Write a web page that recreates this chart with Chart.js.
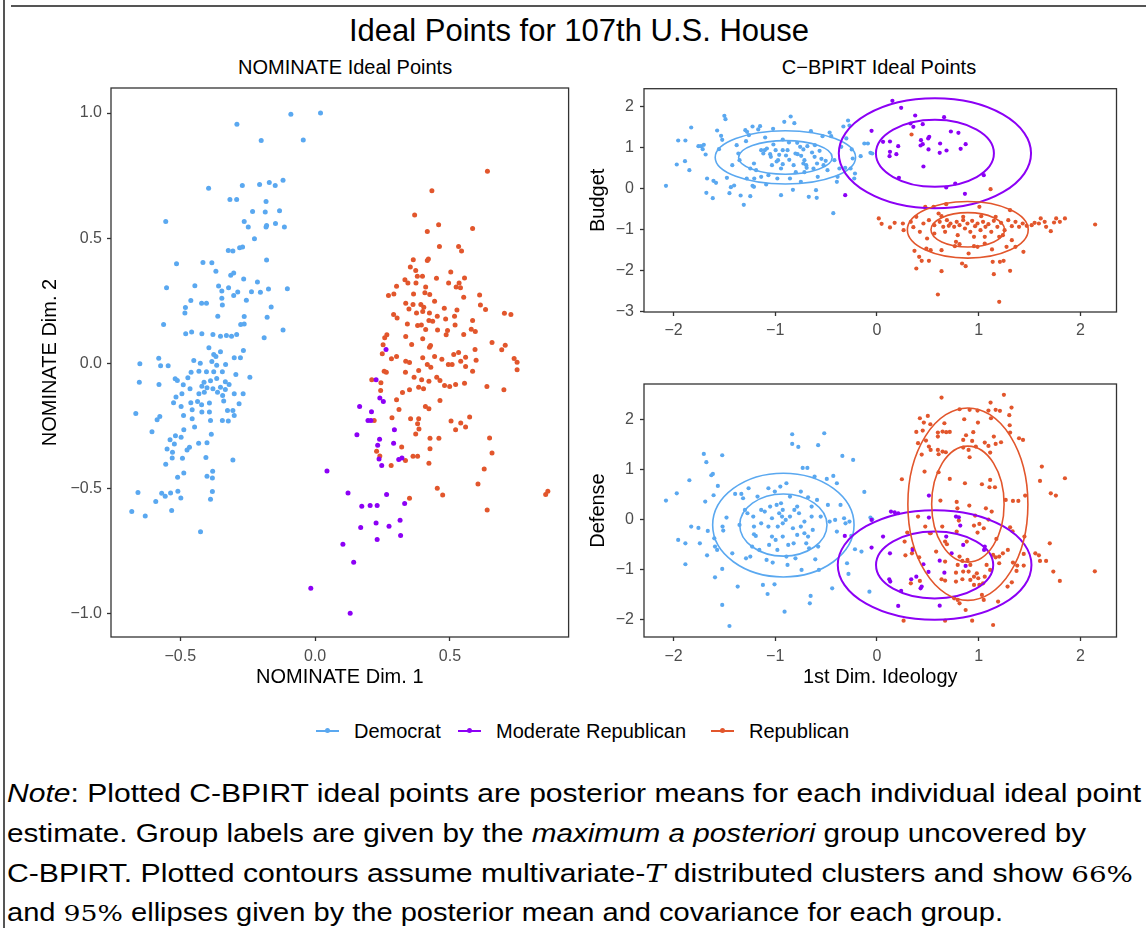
<!DOCTYPE html>
<html>
<head>
<meta charset="utf-8">
<title>Ideal Points for 107th U.S. House</title>
<script src="https://cdn.jsdelivr.net/npm/chart.js@4.4.1/dist/chart.umd.min.js"></script>
<style>
  body { margin: 0; width: 1146px; height: 928px; background: #fff; position: relative; overflow: hidden;
         font-family: 'Liberation Sans', Arial, Helvetica, sans-serif; color: #000; }
  .txt { position: absolute; white-space: nowrap; line-height: 1; }
  canvas { position: absolute; }
  .key { position: absolute; top: 730px; width: 23px; height: 2px; }
  .key i { position: absolute; left: 9px; top: -2px; width: 5px; height: 5px; border-radius: 50%; background: inherit; }
  .note { position: absolute; left: 7px; font-size: 25px; line-height: 1; white-space: nowrap; transform-origin: 0 0; }
  .num { font-family: 'DejaVu Serif', 'Liberation Serif', serif; font-size: 23px; }
</style>
</head>
<body>
<div style="position:absolute;left:3px;top:0;width:1.5px;height:928px;background:#555"></div>
<div style="position:absolute;left:11px;top:5px;width:1135px;height:1.5px;background:#555"></div>

<div class="txt" style="left:0;width:1158px;text-align:center;top:15px;font-size:31px">Ideal Points for 107th U.S. House</div>
<div class="txt" style="left:238px;width:200px;text-align:center;top:57px;font-size:20px">NOMINATE Ideal Points</div>
<div class="txt" style="left:779px;width:200px;text-align:center;top:57px;font-size:20px">C&#8722;BPIRT Ideal Points</div>

<canvas id="nominate" width="550" height="620" style="left:30px;top:80px"></canvas>
<canvas id="budget" width="561" height="270" style="left:585px;top:80px"></canvas>
<canvas id="defense" width="561" height="324" style="left:585px;top:376px"></canvas>

<div class="key" style="left:316px;background:#5aa8f0"><i></i></div>
<div class="txt" style="left:354px;top:721px;font-size:20px">Democrat</div>
<div class="key" style="left:458px;background:#8c00f5"><i></i></div>
<div class="txt" style="left:496px;top:721px;font-size:20px">Moderate Republican</div>
<div class="key" style="left:711px;background:#e2562c"><i></i></div>
<div class="txt" style="left:749px;top:721px;font-size:20px">Republican</div>

<div class="note" id="n1" style="top:781px"><i>Note</i>: Plotted C-BPIRT ideal points are posterior means for each individual ideal point</div>
<div class="note" id="n2" style="top:821px">estimate. Group labels are given by the <i>maximum a posteriori</i> group uncovered by</div>
<div class="note" id="n3" style="top:861px">C-BPIRT. Plotted contours assume multivariate-<i style="font-family:'DejaVu Serif',serif">T</i> distributed clusters and show <span class="num">66%</span></div>
<div class="note" id="n4" style="top:900px">and <span class="num">95%</span> ellipses given by the posterior mean and covariance for each group.</div>

<script>
// colours for the three groups
const groupNames = ['Democrat', 'Moderate Republican', 'Republican'];
const groupColours = ['#5aa8f0', '#8c00f5', '#e2562c'];

// tick values
const nomXTicks = [-0.5, 0, 0.5];
const nomYTicks = [-1, -0.5, 0, 0.5, 1];
const cbXTicks = [-2, -1, 0, 1, 2];
const budgetTicks = [-3, -2, -1, 0, 1, 2];
const defenseTicks = [-2, -1, 0, 1, 2];

// NOMINATE ideal points [dim1, dim2]
const nomDem = [
  [-0.29,0.955],[-0.09,0.995],[0.02,1.0],[-0.2,0.89],[-0.044,0.892],[-0.395,0.70],[-0.27,0.711],[-0.206,0.715],[-0.17,0.723],[-0.148,0.711],
  [-0.119,0.732],[-0.316,0.655],[-0.291,0.655],[-0.182,0.647],[-0.232,0.607],[-0.185,0.605],[-0.132,0.61],[-0.554,0.567],[-0.263,0.567],[-0.248,0.545],
  [-0.182,0.545],[-0.18,0.551],[-0.147,0.559],[-0.114,0.545],[-0.225,0.498],[-0.322,0.451],[-0.305,0.449],[-0.28,0.462],[-0.269,0.465],[-0.514,0.398],
  [-0.416,0.403],[-0.383,0.402],[-0.18,0.413],[-0.368,0.368],[-0.313,0.352],[-0.302,0.361],[-0.265,0.337],[-0.214,0.325],[-0.551,0.302],[-0.446,0.31],
  [-0.358,0.309],[-0.321,0.302],[-0.346,0.289],[-0.236,0.286],[-0.203,0.284],[-0.173,0.297],[-0.103,0.298],[-0.302,0.272],[-0.287,0.285],[-0.346,0.261],
  [-0.461,0.252],[-0.421,0.241],[-0.403,0.241],[-0.344,0.234],[-0.255,0.253],[-0.481,0.224],[-0.483,0.202],[-0.163,0.226],[-0.361,0.189],[-0.263,0.188],
  [-0.178,0.185],[-0.562,0.156],[-0.276,0.156],[-0.263,0.158],[-0.119,0.134],[-0.48,0.119],[-0.458,0.126],[-0.42,0.119],[-0.379,0.116],[-0.351,0.109],
  [-0.329,0.112],[-0.31,0.109],[-0.291,0.116],[-0.189,0.103],
  [-0.394,0.063],[-0.376,0.036],[-0.368,0.028],[-0.351,0.047],[-0.266,0.052],[-0.30,0.023],[-0.277,0.023],[-0.45,0.012],[-0.426,0.001],[-0.383,0.008],
  [-0.365,-0.007],[-0.332,-0.004],[-0.65,-0.001],[-0.58,0.021],[-0.573,-0.009],[-0.545,-0.009],[-0.46,-0.035],[-0.431,-0.031],[-0.403,-0.033],[-0.376,-0.033],
  [-0.344,-0.033],[-0.294,-0.044],[-0.242,-0.055],[-0.519,-0.061],[-0.511,-0.068],[-0.472,-0.057],[-0.412,-0.075],[-0.388,-0.069],[-0.365,-0.06],[-0.333,-0.073],
  [-0.319,-0.084],[-0.652,-0.075],[-0.579,-0.084],[-0.489,-0.085],[-0.464,-0.101],[-0.42,-0.091],[-0.401,-0.097],[-0.379,-0.101],[-0.351,-0.095],[-0.333,-0.104],
  [-0.267,-0.121],[-0.30,-0.121],[-0.494,-0.121],[-0.431,-0.121],[-0.411,-0.115],[-0.362,-0.115],[-0.343,-0.128],[-0.516,-0.134],[-0.525,-0.157],[-0.461,-0.157],
  [-0.436,-0.152],[-0.421,-0.165],[-0.392,-0.158],[-0.339,-0.15],[-0.282,-0.161],[-0.497,-0.172],[-0.456,-0.185],[-0.42,-0.194],[-0.392,-0.194],[-0.325,-0.188],
  [-0.305,-0.188],[-0.665,-0.2],[-0.488,-0.208],[-0.30,-0.208],[-0.586,-0.225],[-0.456,-0.221],[-0.388,-0.228],[-0.344,-0.228],[-0.322,-0.23],[-0.576,-0.212],
  [-0.447,-0.254],[-0.487,-0.265],[-0.605,-0.272],[-0.385,-0.282],[-0.518,-0.288],[-0.497,-0.294],[-0.538,-0.304],[-0.432,-0.318],[-0.401,-0.316],[-0.522,-0.321],
  [-0.466,-0.334],[-0.475,-0.345],[-0.549,-0.341],[-0.529,-0.354],[-0.492,-0.378],[-0.53,-0.377],[-0.405,-0.375],[-0.305,-0.385],[-0.554,-0.402],[-0.487,-0.437],
  [-0.51,-0.454],[-0.401,-0.45],[-0.38,-0.43],[-0.381,-0.457],[-0.509,-0.51],[-0.498,-0.537],[-0.381,-0.511],[-0.388,-0.542],[-0.657,-0.515],[-0.569,-0.518],
  [-0.556,-0.53],[-0.536,-0.517],[-0.591,-0.551],[-0.68,-0.591],[-0.63,-0.609],[-0.532,-0.587],[-0.425,-0.672]
];
const nomMod = [
  [0.263,0.056],[0.226,-0.065],[0.24,-0.138],[0.253,-0.152],[0.165,-0.172],[0.209,-0.193],[0.196,-0.228],[0.207,-0.228],[0.294,-0.265],[0.155,-0.284],
  [0.239,-0.302],[0.291,-0.318],[0.232,-0.326],[0.237,-0.381],[0.247,-0.407],[0.31,-0.383],[0.322,-0.377],[0.044,-0.429],[0.122,-0.517],[0.265,-0.523],
  [0.332,-0.559],[0.173,-0.57],[0.204,-0.567],[0.23,-0.567],[0.315,-0.626],[0.226,-0.637],[0.169,-0.655],[0.274,-0.65],[0.103,-0.722],[0.23,-0.703],
  [0.317,-0.687],[0.143,-0.794],[-0.016,-0.897],[0.13,-0.997]
];
const nomRep = [
  [0.639,0.768],[0.433,0.69],[0.369,0.593],[0.458,0.554],[0.416,0.527],[0.584,0.539],[0.461,0.467],[0.532,0.467],[0.543,0.449],[0.364,0.414],
  [0.416,0.411],[0.42,0.417],[0.353,0.385],[0.373,0.371],[0.379,0.348],[0.398,0.348],[0.45,0.34],[0.503,0.365],[0.554,0.341],[0.333,0.334],
  [0.344,0.321],[0.374,0.321],[0.495,0.321],[0.534,0.321],[0.302,0.308],[0.41,0.305],[0.523,0.305],[0.539,0.302],[0.272,0.272],[0.292,0.278],
  [0.365,0.278],[0.407,0.282],[0.425,0.276],[0.61,0.274],[0.551,0.265],[0.443,0.249],[0.336,0.241],[0.363,0.236],[0.392,0.236],[0.348,0.218],
  [0.403,0.225],[0.479,0.221],[0.526,0.214],[0.613,0.234],[0.632,0.216],[0.376,0.202],[0.399,0.208],[0.424,0.202],[0.291,0.196],[0.304,0.182],
  [0.453,0.189],[0.484,0.178],[0.517,0.189],[0.702,0.201],[0.726,0.196],[0.422,0.172],[0.436,0.169],[0.342,0.158],[0.38,0.152],[0.394,0.154],
  [0.519,0.154],[0.584,0.172],[0.41,0.136],[0.454,0.134],[0.491,0.132],[0.579,0.137],[0.594,0.128],[0.551,0.116],[0.486,0.115],[0.266,0.115],
  [0.258,0.103],[0.336,0.108],[0.399,0.099],
  [0.252,0.075],[0.358,0.076],[0.424,0.065],[0.428,0.072],[0.514,0.036],[0.532,0.044],[0.593,0.056],[0.656,0.084],[0.692,0.055],[0.705,0.073],
  [0.249,0.039],[0.283,0.019],[0.302,0.028],[0.336,0.009],[0.35,0.004],[0.399,0.023],[0.416,-0.004],[0.443,0.028],[0.47,0.017],[0.494,-0.004],
  [0.508,-0.004],[0.54,0.009],[0.558,0.025],[0.597,0.013],[0.738,0.02],[0.749,0.005],[0.749,-0.025],[0.558,-0.012],[0.584,-0.031],[0.256,-0.031],
  [0.264,-0.035],[0.335,-0.035],[0.384,-0.028],[0.429,-0.015],[0.367,-0.055],[0.395,-0.065],[0.451,-0.055],[0.463,-0.068],[0.21,-0.065],[0.244,-0.077],
  [0.422,-0.071],[0.48,-0.088],[0.499,-0.092],[0.521,-0.084],[0.554,-0.079],[0.637,-0.092],[0.70,-0.105],[0.243,-0.108],[0.324,-0.116],[0.35,-0.105],
  [0.384,-0.095],[0.402,-0.101],[0.302,-0.145],[0.463,-0.148],[0.409,-0.172],[0.422,-0.181],[0.311,-0.184],[0.573,-0.214],[0.285,-0.217],[0.354,-0.221],
  [0.384,-0.221],[0.504,-0.23],[0.54,-0.238],[0.38,-0.241],[0.558,-0.254],[0.521,-0.265],[0.385,-0.262],[0.373,-0.281],[0.219,-0.228],[0.426,-0.298],
  [0.459,-0.298],[0.647,-0.297],[0.321,-0.333],[0.426,-0.34],[0.228,-0.35],[0.24,-0.369],[0.363,-0.37],[0.38,-0.37],[0.335,-0.387],[0.656,-0.357],
  [0.282,-0.407],[0.422,-0.398],[0.627,-0.421],[0.604,-0.481],[0.453,-0.498],[0.473,-0.525],[0.35,-0.538],[0.855,-0.523],[0.863,-0.51],[0.638,-0.585]
];

// C-BPIRT ideal points: [1st dim. ideology, budget]
const budDem = [
  [-2.074,0.065],[-1.968,0.587],[-1.954,1.174],[-1.883,1.174],[-1.887,0.668],[-1.844,0.448],[-1.826,1.491],[-1.755,1.035],[-1.73,1.035],[-1.713,0.962],
  [-1.702,1.068],[-1.684,0.831],[-1.67,0.244],[-1.677,-0.106],[-1.614,-0.236],[-1.607,0.187],[-1.582,0.139],[-1.571,1.418],[-1.553,0.962],[-1.532,1.288],
  [-1.521,1.19],[-1.5,1.777],[-1.489,1.695],[-1.475,0.261],[-1.45,-0.114],[-1.436,0.033],[-1.404,0.073],[-1.379,1.06],[-1.362,0.856],[-1.34,-0.171],
  [-1.309,-0.399],[-1.294,1.426],[-1.277,1.386],[-1.287,1.157],[-1.259,1.304],[-1.245,-0.187],[-1.223,1.516],[-1.223,0.065],[-1.206,0.244],[-1.188,0.448],
  [-1.167,1.443],[-1.149,1.524],[-1.138,0.937],[-1.099,1.247],[-1.117,0.856],[-1.082,0.978],[-1.089,0.098],[-1.067,0.326],[-1.043,0.774],[-1.021,1.459],
  [-0.996,0.937],[-0.986,0.66],[-0.972,0.693],[-0.961,0.823],[-0.943,0.489],[-0.943,-0.163],[-0.926,0.937],[-0.911,1.63],[-0.894,0.807],[-0.879,0.937],
  [-0.862,0.701],[-0.848,1.76],[-0.826,-0.033],[-0.812,1.597],[-0.798,0.399],[-0.78,0.839],[-0.755,1.019],[-0.745,0.799],[-0.723,0.611],[-0.713,0.399],
  [-0.691,0.505],[-0.684,1.035],[-0.67,-0.204],[-0.649,1.402],[-0.638,0.88],[-0.624,0.489],[-0.613,0.774],[-0.599,-0.041],[-0.592,-0.228],[-0.582,0.285],
  [-0.564,0.921],[-0.546,0.725],[-0.535,1.28],[-0.525,0.571],[-0.504,0.676],[-0.486,0.448],[-0.465,1.369],[-0.45,1.28],[-0.429,-0.603],[-0.418,0.693],
  [-0.394,0.163],[-0.387,0.285],[-0.369,0.489],[-0.351,1.019],[-0.33,1.516],[-0.312,0.505],[-0.301,1.223],[-0.284,1.663],[-0.27,1.54],[-0.259,0.489],
  [-0.248,0.954],[-0.238,0.733],[-0.216,0.367],[-0.223,0.244],[-0.16,0.79],[-0.124,1.1],[-0.089,1.1],[-0.064,0.872],[-0.046,0.856],[-1.018,1.076],
  [-0.926,1.198],[-0.865,1.125],[-0.784,1.117],[-0.723,0.954],[-0.61,1.06],[-1.032,0.571],[-0.926,0.595],[-0.819,0.571],[-0.695,0.571],[-0.589,0.611],
  [-1.209,0.611],[-1.245,0.489],[-1.138,0.285],[-0.855,0.244],[-0.748,0.163],[-0.979,0.244],[-1.103,0.937],[-0.801,0.856],[-0.713,0.693],[-1.05,0.839],
  [-1.209,0.041],[-1.28,0.244],[-1.422,0.571],[-1.351,0.693]
];
const budMod = [
  [0.152,2.143],[0.238,1.972],[0.376,1.785],[0.33,1.589],[0.358,1.508],[0.45,1.573],[0.66,1.744],[-0.053,1.41],[0.06,1.141],[0.128,1.149],
  [0.209,1.035],[0.128,0.896],[0.124,0.791],[0.191,0.839],[0.433,1.182],[0.45,1.084],[0.429,1.051],[0.504,1.223],[0.514,1.263],[0.621,1.1],
  [0.727,1.394],[0.801,1.361],[0.872,1.084],[0.823,0.97],[0.684,0.929],[0.617,0.872],[0.507,0.954],[0.457,0.538],[0.216,0.261],[0.681,0.024],
  [0.77,0.122],[0.865,-0.13],[1.05,0.326],[-0.312,-0.163]
];
const budRep = [
  [1.117,-0.016],[0.34,1.32],[0.018,-0.733],[0.046,-0.864],[0.128,-0.953],[0.174,-0.839],[0.255,-0.856],[0.262,-1.019],[0.333,-0.815],[0.358,-0.945],
  [0.369,-1.524],[0.415,-1.671],[0.387,-1.956],[0.44,-1.769],[0.475,-0.448],[0.486,-1.467],[0.511,-1.769],[0.528,-1.508],[0.557,-0.448],[0.606,-0.611],
  [0.599,-2.592],[0.635,-2.021],[0.635,-1.508],[0.681,-0.383],[0.706,-0.913],[0.766,-1.41],[0.812,-1.361],[0.837,-1.834],[0.872,-1.899],[0.901,-1.589],
  [0.954,-1.41],[1.007,-0.448],[1.06,-1.345],[1.138,-1.793],[1.149,-2.095],[1.202,-2.771],[1.209,-1.793],[1.245,-1.769],[1.309,-2.013],[1.309,-0.53],
  [1.362,-1.426],[1.44,-1.548],[1.326,-1.263],[1.202,-1.182],[1.131,-1.491],[1.472,-0.913],[1.521,-0.896],[1.61,-0.733],[1.592,-0.856],[1.663,-0.937],
  [1.709,-1.043],[1.741,-0.831],[1.762,-0.733],[1.798,-0.815],[1.848,-0.733],[2.145,-0.88],[1.55,-0.84],[1.649,-0.815],
  [0.457,-0.856],[0.511,-0.774],[0.564,-0.896],[0.617,-0.815],[0.652,-0.937],[0.688,-0.774],[0.723,-0.856],[0.759,-0.937],[0.784,-0.815],[0.812,-0.896],
  [0.848,-0.774],[0.865,-0.978],[0.89,-0.856],[0.918,-1.06],[0.936,-0.79],[0.965,-0.921],[0.989,-0.856],[1.018,-1.019],[1.043,-0.815],[1.067,-0.937],
  [1.096,-0.872],[1.124,-1.06],[1.149,-0.79],[1.184,-0.937],[1.22,-0.839],[1.255,-1.019],[1.291,-0.774],[1.326,-0.921],[1.362,-0.815],[1.397,-0.937],
  [1.433,-0.856],[0.67,-1.06],[0.794,-1.141],[0.954,-1.182],[1.06,-1.182],[1.238,-1.141],[0.564,-1.1],[0.422,-1.06],[0.848,-0.693],[1.025,-0.676],
  [1.167,-0.693],[0.635,-0.676],[0.387,-0.693],[0.493,-1.223],[0.777,-1.304],[0.989,-1.426],[1.274,-1.426]
];

// C-BPIRT ideal points: [1st dim. ideology, defense]
const defDem = [
  [-2.074,0.381],[-1.968,0.528],[-1.954,-0.408],[-1.883,-0.896],[-1.883,-0.475],[-1.844,0.789],[-1.826,-0.14],[-1.755,-0.167],[-1.741,-0.475],[-1.702,1.318],
  [-1.677,1.151],[-1.688,0.361],[-1.663,-0.227],[-1.67,-0.716],[-1.628,0.89],[-1.613,0.916],[-1.606,0.488],[-1.599,-0.375],[-1.592,-0.542],[-1.592,-1.157],
  [-1.564,0.676],[-1.571,-0.609],[-1.521,1.291],[-1.518,-0.14],[-1.511,-0.221],[-1.521,-0.99],[-1.521,-1.712],[-1.479,0.04],[-1.45,-2.134],[-1.422,-0.676],
  [-1.394,0.515],[-1.369,-1.344],[-1.351,-0.107],[-1.333,0.515],[-1.316,0.428],[-1.298,0.194],[-1.273,0.127],[-1.287,-0.776],[-1.262,0.629],[-1.245,-0.742],
  [-1.227,-0.542],[-1.216,0.06],[-1.209,-0.294],[-1.191,-0.328],[-1.174,0.462],[-1.156,-0.609],[-1.138,-0.074],[-1.121,-1.311],[-1.103,0.161],[-1.085,-0.809],
  [-1.075,-1.492],[-1.067,0.629],[-1.06,-0.508],[-1.05,0.261],[-1.032,0.027],[-1.025,-0.863],[-1.007,-1.298],[-1.004,0.562],[-0.996,-0.408],[-0.986,0.294],
  [-0.975,-0.14],[-0.961,0.127],[-0.95,0.662],[-0.943,0.328],[-0.933,0.06],[-0.926,-0.341],[-0.908,-1.846],[-0.897,-0.007],[-0.89,0.729],[-0.879,-0.91],
  [-0.872,-0.508],[-0.855,0.462],[-0.833,1.712],[-0.833,1.518],[-0.826,-0.174],[-0.812,0.194],[-0.801,-0.776],[-0.784,-0.308],[-0.773,1.458],[-0.766,0.127],
  [-0.748,0.562],[-0.741,-1.01],[-0.73,1.037],[-0.713,-0.04],[-0.695,-0.475],[-0.684,1.037],[-0.677,0.448],[-0.667,-0.575],[-0.66,-1.679],[-0.652,-1.532],
  [-0.642,0.261],[-0.631,-0.207],[-0.613,0.863],[-0.606,-0.796],[-0.589,0.395],[-0.578,-0.542],[-0.578,1.492],[-0.571,-1.01],[-0.553,0.06],[-0.518,1.732],
  [-0.493,0.816],[-0.482,0.294],[-0.465,-0.04],[-0.44,-1.378],[-0.429,0.876],[-0.411,-0.007],[-0.394,0.729],[-0.394,-0.241],[-0.358,0.294],[-0.34,1.278],
  [-0.323,0.027],[-0.309,-0.074],[-0.294,-0.876],[-0.28,-1.09],[-0.27,-0.04],[-0.234,1.197],[-0.252,-0.328],[-0.216,-0.595],[-0.152,-0.642],[-0.124,0.555],
  [-0.074,-1.445],[-0.064,0.04],[-0.046,0.007],[-1.138,0.194],[-1.032,-0.341],[-0.926,0.194],[-0.819,-0.475],[-0.713,-0.274],[-1.209,-0.14],[-1.067,-0.14],
  [-0.855,0.06],[-0.748,-0.14],[-0.642,0.06],[-0.784,0.261],[-0.979,-0.609],[-0.89,-0.742],[-0.677,-0.341],[-0.926,-0.074]
];
const defMod = [
  [0.511,0.482],[0.511,0.04],[0.138,0.161],[0.174,0.147],[0.209,0.127],[-0.053,-0.007],[-0.316,-0.328],[-0.053,-0.562],[0.06,-0.341],[0.128,-0.676],
  [0.121,-1.197],[0.131,-1.244],[0.238,-1.431],[0.209,-1.732],[0.337,-1.197],[0.351,-0.609],[0.387,-1.144],[0.44,-1.344],[0.429,-1.378],[0.457,-0.896],
  [0.507,-1.05],[0.617,-0.823],[0.663,-1.064],[0.617,-1.726],[0.681,-0.341],[0.734,-0.676],[0.777,0.06],[0.805,0.047],[0.819,-0.12],[0.848,-0.508],
  [0.872,-0.93],[1.053,-0.609],[1.06,-0.542]
];
const defRep = [
  [0.635,2.448],[1.248,2.502],[1.117,2.348],[1.323,2.248],[0.812,2.214],[0.911,2.201],[0.989,2.187],[1.096,2.187],[1.167,2.201],[1.209,2.181],
  [0.422,2.033],[0.5,2.08],[1.301,2.094],[0.858,2.013],[1.121,2.033],[0.461,1.946],[0.525,1.913],[0.663,1.933],[0.993,1.946],[1.305,1.893],
  [0.387,1.759],[0.45,1.786],[0.599,1.746],[0.645,1.766],[0.681,1.753],[0.716,1.759],[0.876,1.692],[0.947,1.753],[1.309,1.746],[0.404,1.532],
  [0.482,1.585],[0.599,1.666],[0.848,1.599],[0.936,1.579],[0.972,1.465],[1.06,1.545],[1.149,1.666],[1.167,1.518],[1.22,1.552],[1.397,1.632],
  [1.436,1.599],[0.44,1.304],[0.511,1.465],[0.528,1.398],[0.599,1.398],[0.645,1.365],[0.677,1.351],[0.901,1.398],[0.911,1.251],[1.096,1.478],
  [1.113,1.344],[0.848,1.445],[0.606,1.311],[0.468,0.963],[0.606,0.95],[0.245,0.809],[0.716,0.816],[0.865,0.729],[1.032,0.709],[1.113,0.796],
  [1.106,0.649],[1.16,0.649],[1.621,1.064],[1.603,0.776],[1.848,0.829],[1.709,0.528],[1.759,0.482],[0.624,0.381],[0.784,0.355],[0.908,0.281],
  [1.071,0.227],[1.266,0.395],[1.337,0.375],[1.39,0.375],[1.457,0.482],[1.128,0.161],[0.791,0.227],[0.965,0.08],[0.404,0.06],[0.475,-0.14],
  [0.642,-0.14],[0.805,-0.02],[0.954,-0.12],[1.007,-0.087],[1.05,-0.174],[1.096,0.0],[1.309,-0.154],[1.333,-0.234],[0.989,-0.261],[0.784,-0.241],
  [0.528,-0.274],[0.298,-0.261],[0.272,-0.441],[0.67,-0.441],[0.688,-0.495],[0.883,-0.441],[1.174,-0.388],[1.45,-0.341],[1.699,-0.475],[1.557,-0.676],
  [1.592,-0.716],[1.663,-0.829],[1.603,-0.829],[1.287,-0.609],[1.238,-0.676],[1.202,-0.742],[1.167,-0.756],[1.142,-0.709],[1.202,-0.876],[1.337,-0.863],
  [1.443,-0.689],[1.443,-0.923],[1.372,-1.03],[1.379,-0.923],[1.734,-1.043],[1.798,-1.231],[2.142,-1.037],[0.351,-0.582],[0.28,-0.716],[0.344,-0.676],
  [0.415,-0.756],[0.582,-0.642],[0.521,-0.274],[0.812,-0.742],[0.89,-0.809],[0.84,-0.829],[0.918,-0.91],[0.901,-1.043],[0.954,-1.144],[0.982,-1.077],
  [0.996,-1.177],[1.043,-1.278],[1.007,-1.311],[1.06,-1.144],[0.848,-1.043],[0.794,-0.91],[0.67,-1.224],[0.777,-1.244],[0.84,-1.197],[0.918,-1.211],
  [0.954,-1.311],[1.326,-1.258],[1.032,-1.512],[1.05,-1.612],[1.191,-1.645],[0.794,-1.612],[0.759,-1.579],[0.872,-1.813],[0.812,-1.679],[0.635,-1.197],
  [0.422,-1.231],[0.333,-1.278],[0.262,-2.027],[0.67,-2.027],[0.936,-2.027],[1.142,-2.114],[1.284,-1.344],[1.113,-1.01],[1.078,-0.91],[0.67,-0.843],
  [0.777,-1.064]
];

// contour parameters per group (dem, mod, rep): centre, 95% and 66% semi-axes
const budgetCentre = [[-0.90, 0.76], [0.57, 0.86], [0.893, -1.01]];
const budgetAxes95 = [[0.69, 0.65], [0.945, 1.345], [0.594, 0.693]];
const budgetAxes66 = [[0.46, 0.41], [0.58, 0.82], [0.362, 0.42]];
const defenseCentre = [[-0.92, -0.11], [0.567, -0.91], [0.894, 0.31]];
const defenseAxes95 = [[0.695, 1.04], [0.952, 1.10], [0.59, 1.93]];
const defenseAxes66 = [[0.429, 0.622], [0.576, 0.672], [0.356, 1.164]];


Chart.defaults.font.family = "'Liberation Sans', Arial, Helvetica, sans-serif";
Chart.defaults.animation = false;

const panelFrame = {
  id: 'panelFrame',
  afterDatasetsDraw(chart, args, opts) {
    const { ctx, chartArea: a, scales: { x, y } } = chart;
    ctx.save();
    ctx.beginPath();
    ctx.rect(a.left, a.top, a.right - a.left, a.bottom - a.top);
    ctx.clip();
    (opts.ellipses || []).forEach(e => {
      const cx = x.getPixelForValue(e.c[0]);
      const cy = y.getPixelForValue(e.c[1]);
      const rx = Math.abs(x.getPixelForValue(e.c[0] + e.r[0]) - cx);
      const ry = Math.abs(y.getPixelForValue(e.c[1] + e.r[1]) - cy);
      ctx.beginPath();
      ctx.ellipse(cx, cy, rx, ry, 0, 0, Math.PI * 2);
      ctx.strokeStyle = e.color;
      ctx.lineWidth = e.w;
      ctx.stroke();
    });
    ctx.restore();
    ctx.save();
    ctx.strokeStyle = '#333';
    ctx.lineWidth = 1.3;
    ctx.strokeRect(a.left, a.top, a.right - a.left, a.bottom - a.top);
    ctx.restore();
  }
};

function ellipseList(centres, axes95, axes66) {
  const out = [];
  centres.forEach((c, i) => {
    const w = i === 1 ? 2 : 1.6;
    out.push({ c: c, r: axes95[i], color: groupColours[i], w: w });
    out.push({ c: c, r: axes66[i], color: groupColours[i], w: w });
  });
  return out;
}

function dataset(i, pts, r) {
  return {
    label: groupNames[i],
    data: pts.map(p => ({ x: p[0], y: p[1] })),
    backgroundColor: groupColours[i],
    borderWidth: 0,
    pointRadius: r,
    pointHoverRadius: r
  };
}

function axis(o) {
  return {
    type: 'linear',
    min: o.min,
    max: o.max,
    afterBuildTicks: s => { s.ticks = o.ticks.map(v => ({ value: v })); },
    afterFit: s => {
      if (o.width) s.width = o.width;
      if (o.height) s.height = o.height;
      // no extra room for overhanging tick labels: the frame is placed by layout padding
      s.paddingTop = 0; s.paddingBottom = 0; s.paddingLeft = 0; s.paddingRight = 0;
    },
    border: { display: false },
    grid: { drawOnChartArea: false, drawTicks: true, tickLength: 4, tickColor: '#333', tickWidth: 1.3 },
    ticks: {
      padding: o.pad,
      color: '#4d4d4d',
      font: { size: 16 },
      maxRotation: 0,
      autoSkip: false,
      callback: v => (o.dec ? v.toFixed(1) : String(v)).replace('-', '\u2212')
    },
    title: {
      display: !!o.title,
      text: o.title,
      color: '#000',
      font: { size: 20 },
      padding: o.titlePad
    }
  };
}

function makeChart(id, sets, xs, ys, padding, ellipses) {
  return new Chart(document.getElementById(id), {
    type: 'scatter',
    data: { datasets: sets },
    options: {
      responsive: false,
      animation: false,
      layout: { padding: padding },
      events: [],
      scales: { x: axis(xs), y: axis(ys) },
      plugins: {
        legend: { display: false },
        tooltip: { enabled: false },
        panelFrame: { ellipses: ellipses }
      }
    },
    plugins: [panelFrame]
  });
}

makeChart('nominate',
  [dataset(1, nomMod, 2.5), dataset(0, nomDem, 2.5), dataset(2, nomRep, 2.5)],
  { min: -0.757, max: 0.94, ticks: nomXTicks, dec: true, pad: 6, height: 63,
    title: 'NOMINATE Dim. 1', titlePad: { top: 0, bottom: 11 } },
  { min: -1.092, max: 1.10, ticks: nomYTicks, dec: true, pad: 5, width: 81,
    title: 'NOMINATE Dim. 2', titlePad: { top: 8, bottom: 0 } },
  { left: 0, top: 8, right: 11.4, bottom: 0 }, []);

makeChart('budget',
  [dataset(1, budMod, 2.1), dataset(0, budDem, 2.1), dataset(2, budRep, 2.1)],
  { min: -2.29, max: 2.355, ticks: cbXTicks, pad: 5, height: 38 },
  { min: -3.02, max: 2.44, ticks: budgetTicks, pad: 6, width: 59,
    title: 'Budget', titlePad: { top: 1, bottom: 0 } },
  { left: 0, top: 8.7, right: 29.5, bottom: 0 },
  ellipseList(budgetCentre, budgetAxes95, budgetAxes66));

makeChart('defense',
  [dataset(1, defMod, 2.1), dataset(0, defDem, 2.1), dataset(2, defRep, 2.1)],
  { min: -2.29, max: 2.355, ticks: cbXTicks, pad: 6, height: 63,
    title: '1st Dim. Ideology', titlePad: { top: 0, bottom: 11 } },
  { min: -2.355, max: 2.72, ticks: defenseTicks, pad: 6, width: 59,
    title: 'Defense', titlePad: { top: 1, bottom: 0 } },
  { left: 0, top: 8, right: 29.5, bottom: 0 },
  ellipseList(defenseCentre, defenseAxes95, defenseAxes66));

// stretch the note lines to the widths they have in the figure
const noteWidths = { n1: 1134, n2: 1079, n3: 1126, n4: 996 };
Object.keys(noteWidths).forEach(id => {
  const el = document.getElementById(id);
  const w = el.getBoundingClientRect().width;
  el.style.transform = 'scaleX(' + (noteWidths[id] / w) + ')';
});
</script>
</body>
</html>
